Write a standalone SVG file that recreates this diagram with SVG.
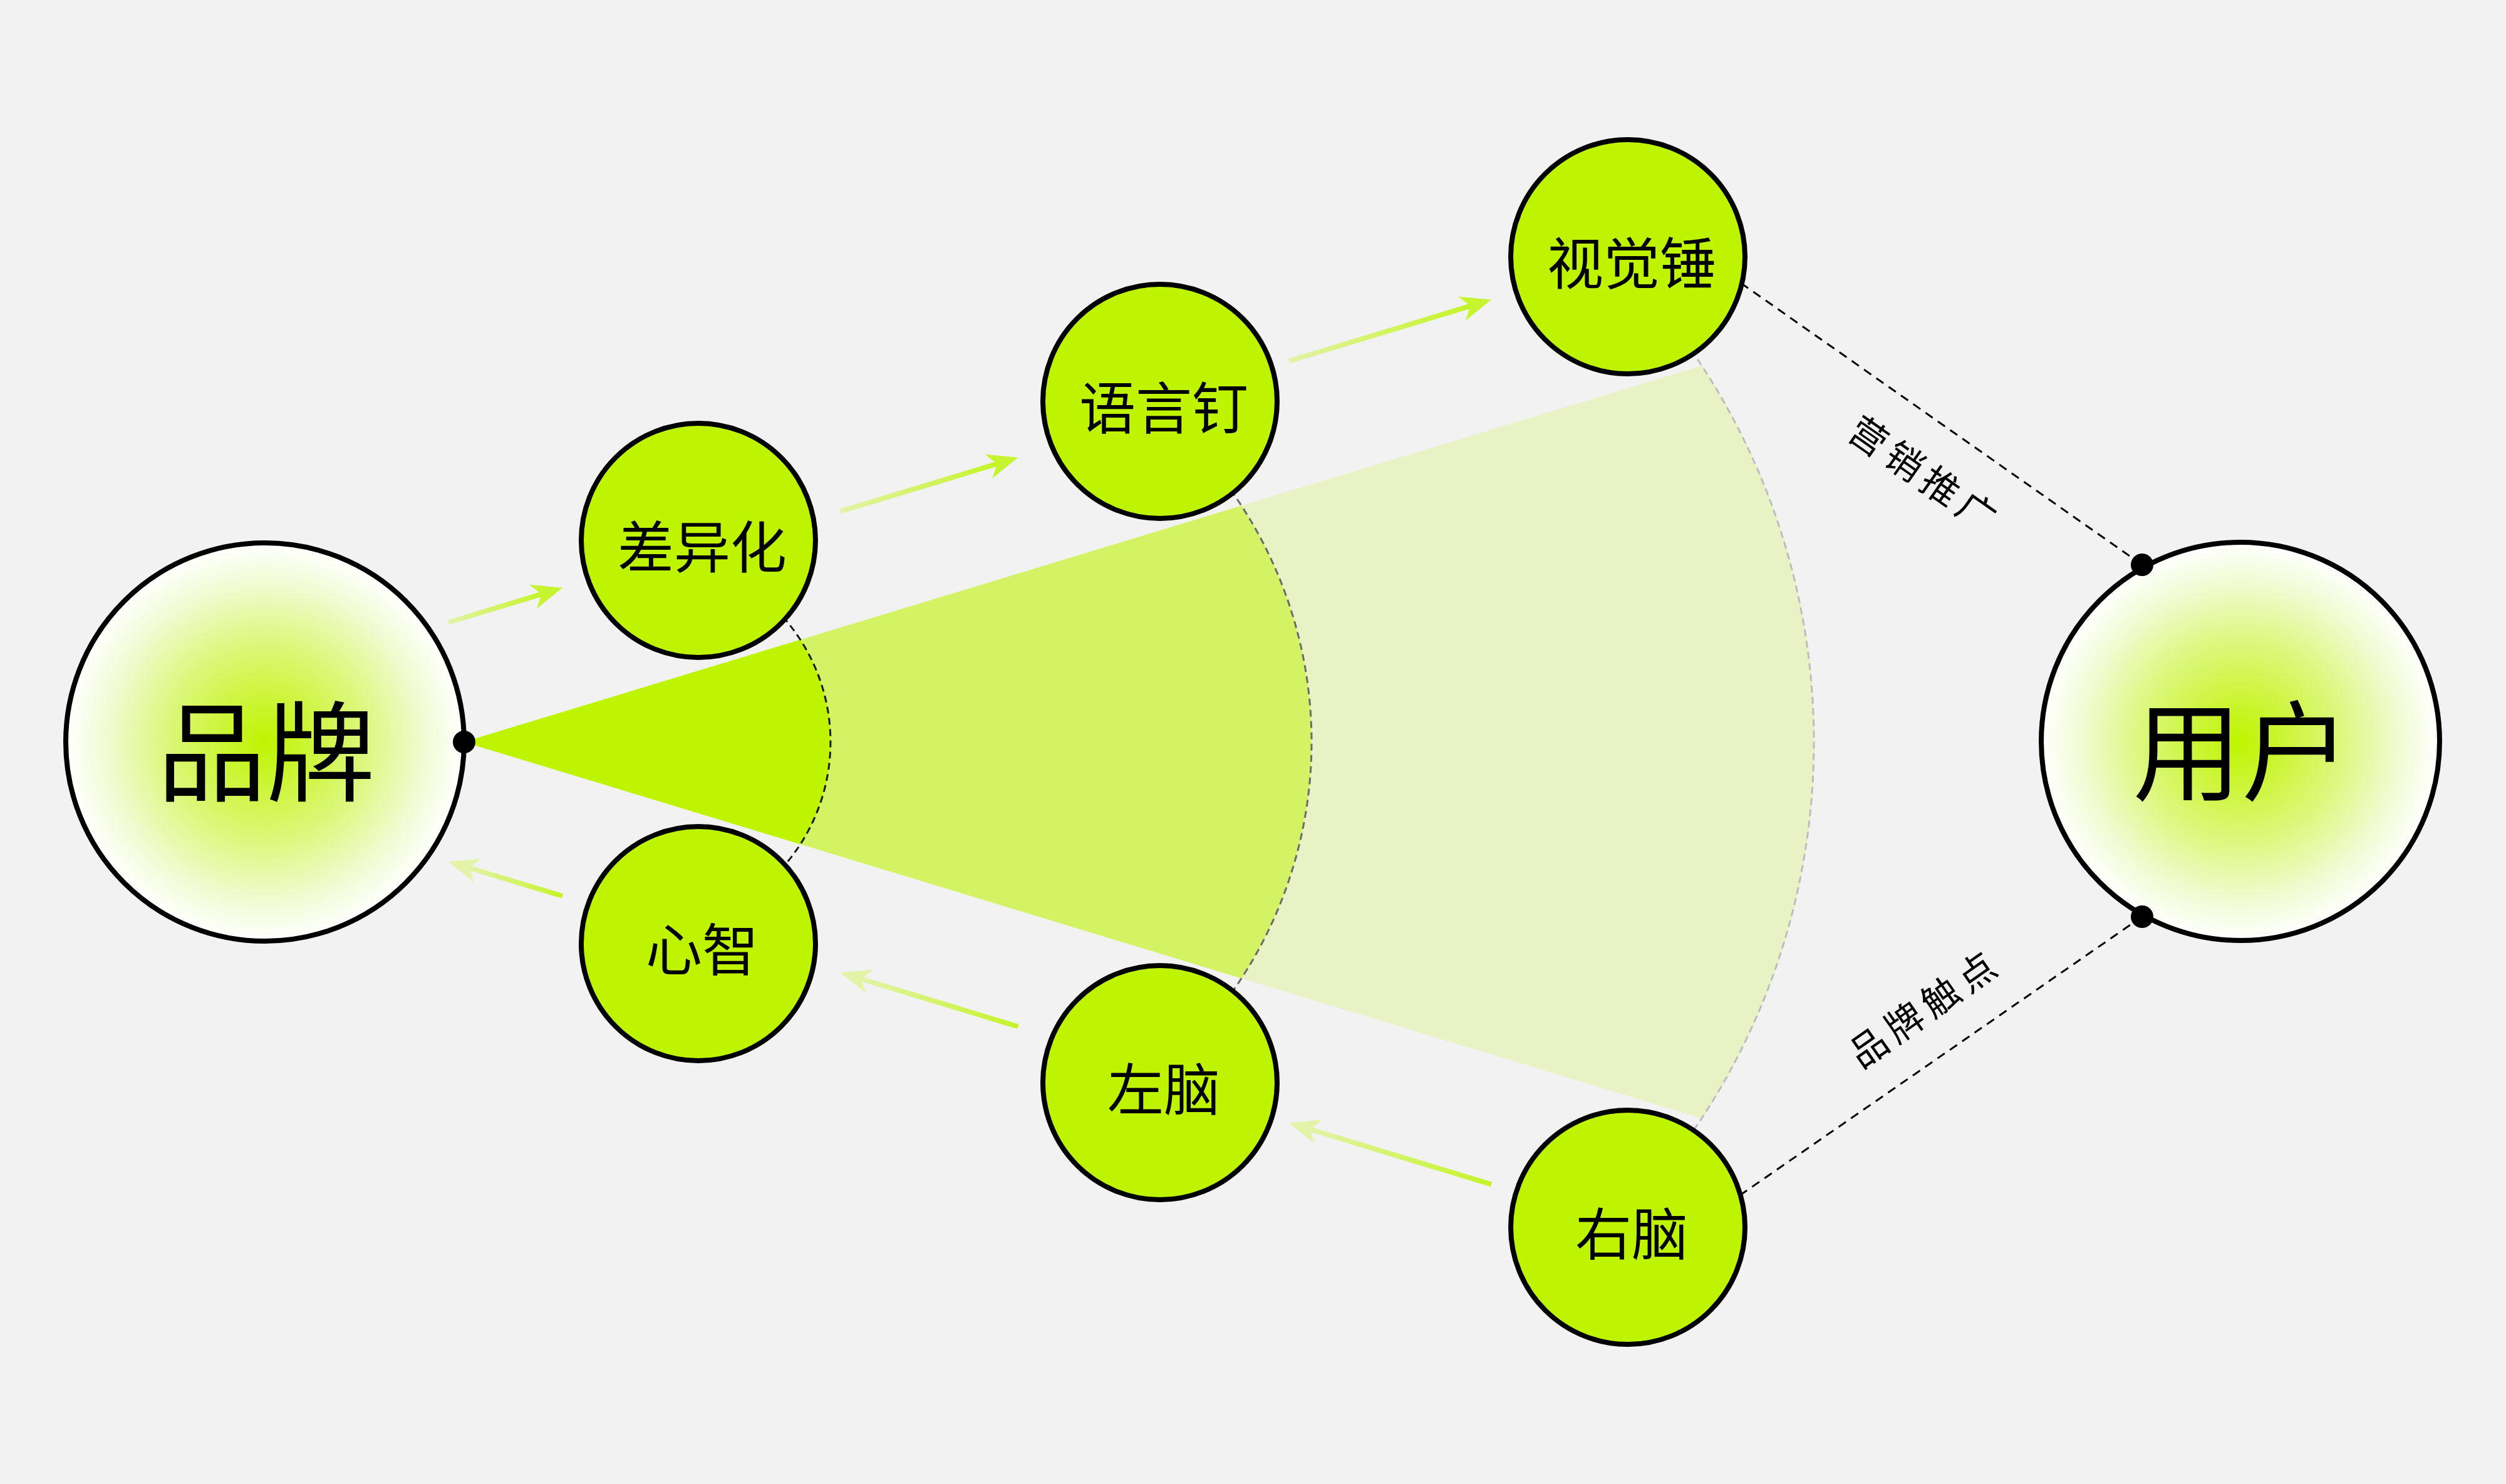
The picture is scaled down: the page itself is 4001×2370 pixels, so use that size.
<svg xmlns="http://www.w3.org/2000/svg" width="4001" height="2370" viewBox="0 0 4001 2370">
<defs>
<style>
.node{fill:#BEF400;stroke:#000;stroke-width:8}
.big{fill:url(#glow);stroke:#000;stroke-width:8}
.lbl{font-family:"Noto Sans CJK SC","Noto Sans CJK JP",sans-serif;font-size:90px;text-anchor:middle;dominant-baseline:central;fill:#000}
.biglbl{font-size:174px}
.elbl{font-family:"Noto Sans CJK SC","Noto Sans CJK JP",sans-serif;font-size:60px;letter-spacing:10px;text-anchor:middle;dominant-baseline:central;fill:#000}
.arrow{fill:none;stroke:url(#arrowGrad);stroke-width:8}
.arc{fill:none;stroke-width:3;stroke-dasharray:11 7}
.link{fill:none;stroke:#000;stroke-width:3;stroke-dasharray:14 10}
.dot{fill:#000}
</style>
<radialGradient id="glow" cx="0.5" cy="0.5" r="0.5">
<stop offset="0" stop-color="#BEF400"/>
<stop offset="0.5" stop-color="#DCF77C"/>
<stop offset="0.8" stop-color="#F1FBD3"/>
<stop offset="1" stop-color="#FFFFFF"/>
</radialGradient>
<linearGradient id="arrowGrad" x1="0" y1="0" x2="1" y2="0">
<stop offset="0" stop-color="#E3F3A8"/>
<stop offset="1" stop-color="#C4F426"/>
</linearGradient>
<marker id="headLime" markerUnits="userSpaceOnUse" viewBox="-20 -25 60 50" markerWidth="60" markerHeight="50" refX="0" refY="0" orient="auto">
<path d="M35 0 L-14 -20 L0 0 L-14 20 Z" fill="#C6F42E"/>
</marker>
<marker id="headPale" markerUnits="userSpaceOnUse" viewBox="-20 -25 60 50" markerWidth="60" markerHeight="50" refX="0" refY="0" orient="auto">
<path d="M35 0 L-14 -20 L0 0 L-14 20 Z" fill="#E3F3A8"/>
</marker>
</defs>
<rect x="0" y="0" width="4001" height="2370" fill="#F2F2F2"/>

<g id="fan">
<path d="M741 1185 L2718 583.7 A1098 1098 0 0 1 2718 1786.3 Z" fill="#E8F2C4"/>
<path d="M741 1185 L1982 807.6 A692 692 0 0 1 1982 1562.4 Z" fill="#D4F364"/>
<path d="M741 1185 L1277.9 1021.7 A301 301 0 0 1 1277.9 1348.3 Z" fill="#BEF400"/>
<path class="arc" d="M1250 985.1 A301 301 0 0 1 1250 1384.9" stroke="#1a1a1a"/>
<path class="arc" d="M1965 782.6 A692 692 0 0 1 1965 1587.4" stroke="#6b6b6b"/>
<path class="arc" d="M2700 558.9 A1098 1098 0 0 1 2700 1811.1" stroke="#BDBDBD" stroke-width="4"/>
</g>

<g id="connectors">
<line class="link" x1="2760" y1="438.4" x2="3420" y2="902"/>
<line class="link" x1="2758" y1="1922.7" x2="3420" y2="1464"/>
<line class="arrow" x1="716" y1="994" x2="864.5" y2="948.9" marker-end="url(#headLime)"/>
<line class="arrow" x1="1341.8" y1="816.7" x2="1591.9" y2="740.7" marker-end="url(#headLime)"/>
<line class="arrow" x1="2058" y1="576.7" x2="2347.5" y2="488.7" marker-end="url(#headLime)"/>
<line class="arrow" x1="898" y1="1431" x2="749.5" y2="1386.2" marker-end="url(#headPale)"/>
<line class="arrow" x1="1625.4" y1="1639.5" x2="1375.3" y2="1563.5" marker-end="url(#headPale)"/>
<line class="arrow" x1="2381" y1="1891.5" x2="2091.5" y2="1803.5" marker-end="url(#headPale)"/>
</g>

<g id="node-brand">
<circle class="big" cx="423" cy="1185" r="318"/>
<text class="lbl biglbl" x="425" y="1190">品牌</text>
</g>
<g id="node-user">
<circle class="big" cx="3577" cy="1184" r="318"/>
<text class="lbl biglbl" x="3579" y="1189">用户</text>
</g>
<g id="node-diff">
<circle class="node" cx="1115" cy="863" r="187"/>
<text class="lbl" x="1121" y="868">差异化</text>
</g>
<g id="node-mind">
<circle class="node" cx="1115" cy="1507" r="187"/>
<text class="lbl" x="1121" y="1511">心智</text>
</g>
<g id="node-verbal">
<circle class="node" cx="1852" cy="641" r="187"/>
<text class="lbl" x="1858" y="646">语言钉</text>
</g>
<g id="node-left">
<circle class="node" cx="1852" cy="1729" r="187"/>
<text class="lbl" x="1858" y="1734">左脑</text>
</g>
<g id="node-visual">
<circle class="node" cx="2599" cy="410" r="187"/>
<text class="lbl" x="2605" y="415">视觉锤</text>
</g>
<g id="node-right">
<circle class="node" cx="2599" cy="1960" r="187"/>
<text class="lbl" x="2605" y="1965">右脑</text>
</g>

<g id="dots">
<circle class="dot" cx="741" cy="1185" r="18"/>
<circle class="dot" cx="3420" cy="902" r="18"/>
<circle class="dot" cx="3420" cy="1464" r="18"/>
</g>

<g id="edge-labels">
<text class="elbl" transform="translate(3076 756) rotate(35)">营销推广</text>
<text class="elbl" transform="translate(3071 1606) rotate(-35)">品牌触点</text>
</g>
</svg>
